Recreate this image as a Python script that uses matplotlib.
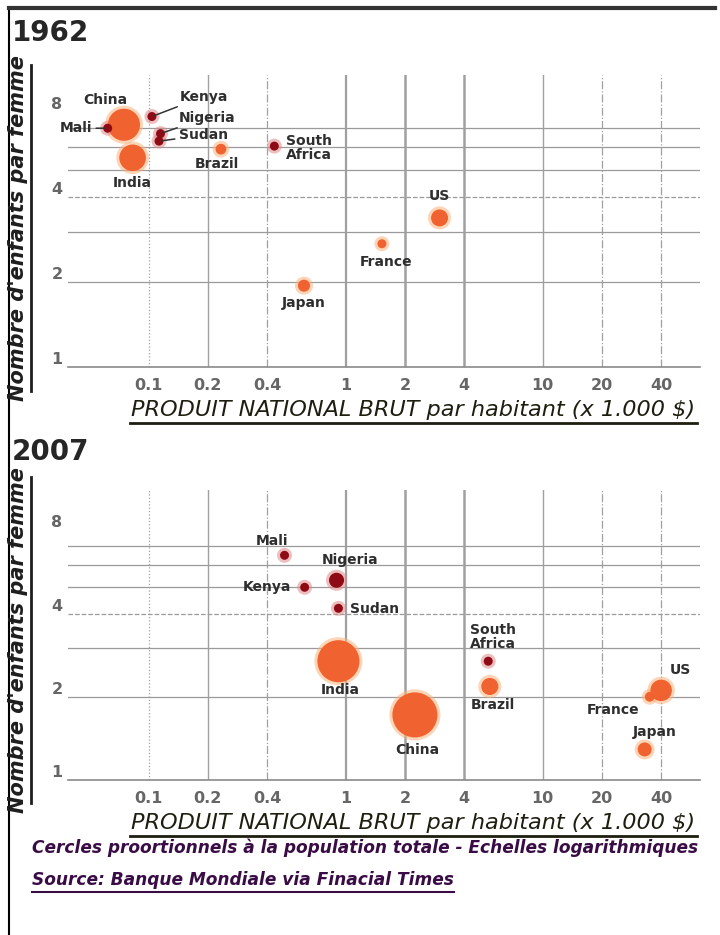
import numpy as np
import matplotlib
matplotlib.use("Agg")
import matplotlib.pyplot as plt

# data: GNP per head (x 1000 $), children per woman, population (millions)
countries_62 = ["China", "Mali", "Kenya", "Nigeria", "Sudan", "India", "Brazil",
                "South\nAfrica", "US", "France", "Japan"]
gnp_62 = [0.075, 0.062, 0.104, 0.115, 0.113, 0.083, 0.233, 0.435, 3.0, 1.53, 0.615]
fert_62 = [7.2, 7.0, 7.7, 6.7, 6.3, 5.5, 5.9, 6.05, 3.37, 2.73, 1.94]
pop_62 = [670, 5, 9, 45, 12, 460, 75, 17, 187, 47, 95]
dark_62 = [0, 1, 1, 1, 1, 0, 0, 1, 0, 0, 0]

countries_07 = ["Mali", "Nigeria", "Kenya", "Sudan", "India", "China",
                "South\nAfrica", "Brazil", "US", "France", "Japan"]
gnp_07 = [0.49, 0.90, 0.62, 0.92, 0.92, 2.25, 5.3, 5.4, 40, 35, 33]
fert_07 = [6.5, 5.28, 4.98, 4.18, 2.69, 1.72, 2.69, 2.18, 2.11, 2.0, 1.29]
pop_07 = [12, 148, 37, 40, 1150, 1320, 48, 190, 300, 62, 127]
dark_07 = [1, 1, 1, 1, 0, 0, 1, 0, 0, 0, 0]

x_ticks = [0.1, 0.2, 0.4, 1, 2, 4, 10, 20, 40]
x_ticklabels = ["0.1", "0.2", "0.4", "1", "2", "4", "10", "20", "40"]
y_ticks = [1, 2, 4, 8]
y_ticklabels = ["1", "2", "4", "8"]
h_lines = [2, 3, 4, 5, 6, 7]

W, H = 720, 935
NARROW = ["DejaVu Sans"]
ORANGE = "#f0622f"
GLOW = "#fbb27a"
DARK = "#8e0b16"
DGLOW = "#e08a8a"
TXT = "#2e2e2e"
PURPLE = "#3a0c45"

# label offsets in pixels (dx, dy, ha, leader line)
lab_62 = {
    "China": (-19, -25, "center", False),
    "Mali": (-32, 0, "center", True),
    "Kenya": (28, -20, "left", True),
    "Nigeria": (18, -16, "left", True),
    "Sudan": (20, -6, "left", True),
    "India": (0, 25, "center", False),
    "Brazil": (-4, 15, "center", False),
    "South\nAfrica": (12, 2, "left", False),
    "US": (0, -22, "center", False),
    "France": (4, 18, "center", False),
    "Japan": (0, 17, "center", False),
}
lab_07 = {
    "Mali": (-13, -14, "center", False),
    "Nigeria": (14, -20, "center", False),
    "Kenya": (-14, 0, "right", False),
    "Sudan": (12, 1, "left", False),
    "India": (2, 29, "center", False),
    "China": (2, 35, "center", False),
    "South\nAfrica": (5, -24, "center", False),
    "Brazil": (3, 19, "center", False),
    "US": (19, -20, "center", False),
    "France": (-10, 13, "right", False),
    "Japan": (10, -17, "center", False),
}


def fx(px):
    return px / W


def fy(py):
    return 1 - py / H


fig = plt.figure(figsize=(7.2, 9.35), dpi=100)


def narrow_text(x, y, s, size, width, **kw):
    # squeeze a text to the given pixel width
    t = fig.text(x, y, s, family=NARROW, fontsize=size, **kw)
    fig.canvas.draw()
    w = t.get_window_extent().width
    if w > width:
        t.set_fontsize(size * width / w)
    return t


def panel(top, bottom, ylim, names, gx, gy, pop, dark, labs, year, ylab_c):
    ax = fig.add_axes([fx(68), fy(bottom), fx(700) - fx(68), fy(top) - fy(bottom)])
    ax.set_xscale("log")
    ax.set_yscale("log")
    ax.set_xlim(0.039, 63)
    ax.set_ylim(*ylim)
    for s in ["top", "right", "left"]:
        ax.spines[s].set_visible(False)
    ax.spines["bottom"].set_color("#8a8a8a")
    ax.spines["bottom"].set_linewidth(1.2)

    # grid
    for v in h_lines:
        ax.axhline(v, color="#9a9a9a", lw=0.9, ls="--" if v == 4 else "-", zorder=0)
    vstyle = {0.1: (":", 0.9), 0.2: ("-", 1.0), 0.4: ("-.", 0.9), 1: ("-", 1.6),
              2: ("-", 1.8), 4: ("-", 1.8), 10: ("-", 1.0), 20: ("-.", 0.9), 40: ("-.", 0.9)}
    for v in x_ticks:
        ls, lw = vstyle[v]
        ax.axvline(v, color="#a0a0a0", lw=lw, ls=ls, zorder=0)

    ax.set_xticks(x_ticks)
    ax.set_xticklabels(x_ticklabels)
    ax.set_yticks(y_ticks)
    ax.set_yticklabels(y_ticklabels)
    ax.minorticks_off()
    ax.tick_params(length=0, labelsize=11.5, labelcolor="#666666", pad=8)
    ax.tick_params(axis="y", pad=4)
    for t in ax.get_xticklabels() + ax.get_yticklabels():
        t.set_fontweight("bold")
    for t in ax.get_yticklabels():
        t.set_va("bottom")

    # bubbles, area proportional to population
    r = np.maximum(4.5, 0.62 * np.sqrt(np.array(pop, dtype=float)))
    s_main = (2 * r * 0.72) ** 2
    s_glow = (2 * (r + 3) * 0.72) ** 2
    cols = [DARK if d else ORANGE for d in dark]
    gcols = [DGLOW if d else GLOW for d in dark]
    ax.scatter(gx, gy, s=s_glow, c=gcols, alpha=0.55, lw=0, zorder=2)
    ax.scatter(gx, gy, s=s_main, c=cols, lw=0, zorder=3)

    for i, n in enumerate(names):
        dx, dy, ha, line = labs[n]
        ax.annotate(n, (gx[i], gy[i]), xytext=(dx * 0.72, -dy * 0.72),
                    textcoords="offset points", ha=ha, va="center",
                    fontsize=10, fontweight="bold", color=TXT, linespacing=0.95,
                    zorder=4,
                    arrowprops=dict(arrowstyle="-", color="#333333", lw=1.1,
                                    shrinkA=1, shrinkB=2) if line else None)

    # year
    fig.text(fx(12), fy(top - 42 if year == "1962" else top - 38), year, fontsize=20,
             fontweight="bold", color="#262626", ha="left", va="center")

    # y label, underlined
    narrow_text(fx(18), fy(ylab_c), "Nombre d'enfants par femme", 15, 318,
                rotation=90, fontstyle="italic", fontweight="bold",
                color="#1e1e1e", ha="center", va="center")
    fig.add_artist(plt.Line2D([fx(31), fx(31)], [fy(ylab_c - 163), fy(ylab_c + 163)],
                              color="#1e1e1e", lw=2))

    # x label, underlined
    xl_y = bottom + 43
    narrow_text(fx(413), fy(xl_y), "PRODUIT NATIONAL BRUT par habitant (x 1.000 $)",
                17, 565, fontstyle="italic", color="#1e1e10", ha="center", va="center")
    fig.add_artist(plt.Line2D([fx(130), fx(697)], [fy(xl_y + 13), fy(xl_y + 13)],
                              color="#1e1e10", lw=2))
    return ax


panel(75, 367, (1, 10.8), countries_62, gnp_62, fert_62, pop_62, dark_62, lab_62,
      "1962", 228)
panel(490, 780, (1, 11.2), countries_07, gnp_07, fert_07, pop_07, dark_07, lab_07,
      "2007", 640)

# footnotes
note = narrow_text(fx(32), fy(848),
                   "Cercles proortionnels à la population totale - Echelles logarithmiques",
                   15, 666, fontstyle="italic", fontweight="bold", color=PURPLE,
                   ha="left", va="center")
src = fig.text(fx(32), fy(880), "Source: Banque Mondiale via Finacial Times",
               family=NARROW, fontsize=note.get_fontsize(), fontstyle="italic",
               fontweight="bold", color=PURPLE, ha="left", va="center")
fig.canvas.draw()
src_w = src.get_window_extent().width
fig.add_artist(plt.Line2D([fx(32), fx(32 + src_w)], [fy(892), fy(892)],
                          color=PURPLE, lw=1.5))

# frame
fig.add_artist(plt.Line2D([fx(9), fx(9)], [fy(8), 0], color="black", lw=1.5))
fig.add_artist(plt.Line2D([fx(9), fx(715)], [fy(8), fy(8)], color="#333333", lw=3))

fig.savefig("out.png", dpi=100, facecolor="white")
